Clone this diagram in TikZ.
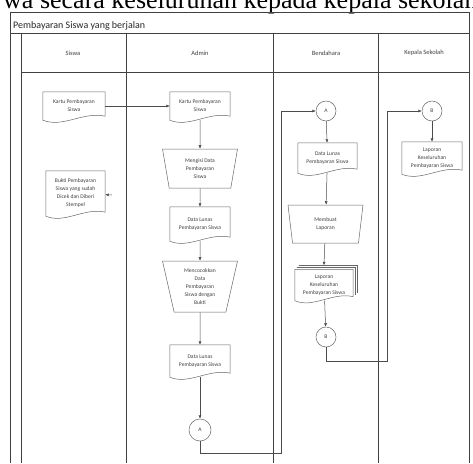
\documentclass[tikz,border=0pt]{standalone}
\usepackage{fontspec}
\setmainfont{Carlito}
\newfontfamily\teksfont{Liberation Serif}
\usetikzlibrary{shapes.geometric,arrows.meta,calc}

% garis bawah bergelombang untuk simbol dokumen
\newcommand{\dokumen}[1]{\draw[garis] (#1.north west) -- (#1.north east) -- ($(#1.south east)+(0,4)$) .. controls ($(#1.south)+(9,9)$) and ($(#1.south)+(-11,-8)$) .. (#1.south west) -- cycle;}

\begin{document}
\begin{tikzpicture}[x=1pt,y=1pt,
  lajur/.style={draw=black!75,line width=0.7pt},
  garis/.style={draw=black!60,line width=0.5pt},
  panah/.style={draw=black!70,line width=0.5pt,-{Latex[length=3.5pt,width=3pt]}},
  teks/.style={font=\fontsize{5.6}{8}\selectfont,text=black!75,align=center,inner sep=1pt},
  doc/.style={teks,minimum width=60pt,minimum height=30pt},
  proses/.style={teks,garis,trapezium,shape border rotate=180,trapezium stretches body,
    trapezium left angle=73,trapezium right angle=73,minimum width=75pt,minimum height=39pt},
  sambung/.style={teks,garis,circle,minimum size=20pt}]
\useasboundingbox (0,0) rectangle (473,-463);

\node[anchor=base west,inner sep=0,font=\teksfont\fontsize{26}{30}\selectfont] (atas) at (3,-9) {wa secara keseluruhan kepada kepala sekolah};

% bingkai dan lajur
\draw[lajur] (10,-463) -- (10,-12) -- (469,-12) -- (469,-463);
\draw[lajur] (10,-33) -- (469,-33);
\draw[lajur] (21,-33) -- (21,-463);
\draw[lajur] (21,-72) -- (469,-72);
\foreach \x in {126,273,378}
  \draw[lajur] (\x,-33) -- (\x,-463);
\node[anchor=base west,inner sep=0,font=\fontsize{10}{12}\selectfont,text=black!85] (judul) at (13,-28) {Pembayaran Siswa yang berjalan};
\node[teks,font=\fontsize{6.5}{8}\selectfont] (hsiswa) at (73,-53) {Siswa};
\node[teks,font=\fontsize{6.5}{8}\selectfont] (hadmin) at (200,-53) {Admin};
\node[teks,font=\fontsize{6.5}{8}\selectfont] (hbendahara) at (326,-53) {Bendahara};
\node[teks,font=\fontsize{6.5}{8}\selectfont] (hkepsek) at (424,-53) {Kepala Sekolah};

% Siswa
\node[doc,minimum width=62pt,minimum height=28pt] (kartu) at (74,-106) {Kartu Pembayaran\\Siswa};
\node[doc,minimum width=59pt,minimum height=45pt] (bukti) at (75.5,-193.5) {Bukti Pembayaran\\Siswa yang sudah\\Dicek dan Diberi\\Stempel};
\coordinate (bukti in) at (112,-195);

% Admin
\node[doc,minimum height=28pt] (kartuadm) at (200,-106) {Kartu Pembayaran\\Siswa};
\node[proses] (isi) at (200,-168.5) {Mengisi Data\\Pembayaran\\Siswa};
\node[doc,minimum height=34pt] (lunas) at (200,-224) {Data Lunas\\Pembayaran Siswa};
\node[proses,minimum height=51pt] (cocok) at (200,-286.5) {Mencocokkan\\Data\\Pembayaran\\Siswa dengan\\Bukti};
\node[doc,minimum height=32pt] (lunas2) at (200,-361) {Data Lunas\\Pembayaran Siswa};
\node[sambung,minimum size=22pt] (a1) at (200,-430) {A};

% Bendahara
\node[sambung] (a2) at (326,-111) {A};
\node[doc,minimum width=59pt] (lunas3) at (327.5,-158) {Data Lunas\\Pembayaran Siswa};
\node[proses,minimum height=38pt] (buat) at (325.5,-224) {Membuat\\Laporan};
\node[doc,minimum width=58pt,minimum height=31pt] (laporan) at (324,-285) {Laporan\\Keseluruhan\\Pembayaran Siswa};
\node[sambung] (b1) at (326,-337) {B};

% Kepala Sekolah
\node[sambung] (b2) at (432,-111) {B};
\node[doc,minimum height=32pt] (laporan2) at (432,-158) {Laporan\\Keseluruhan\\Pembayaran Siswa};

\foreach \n in {kartu,bukti,kartuadm,lunas,lunas2,lunas3,laporan,laporan2}
  \dokumen{\n}
\foreach \d in {2,4}
  \draw[garis] ($(laporan.north west)+(\d,\d)$) -- ($(laporan.north east)+(\d,\d)$) -- ($(laporan.south east)+(\d,4+\d)$);

\coordinate (ra) at (281,-453);
\coordinate (rb) at (387,-361);
\draw[panah] (kartu) -- (kartuadm);
\draw[panah] (bukti in) -- (bukti);
\draw[panah] (kartuadm) -- (isi);
\draw[panah] (isi) -- (lunas);
\draw[panah] (lunas) -- (cocok);
\draw[panah] (cocok) -- (lunas2);
\draw[panah] (lunas2) -- (a1);
\draw[panah] (a1.south) |- (ra) |- (a2.west);
\draw[panah] (a2) -- (lunas3);
\draw[panah] (lunas3) -- (buat);
\draw[panah] (buat) -- ($(laporan.north)+(0,4)$);
\draw[panah] (laporan) -- (b1);
\draw[panah] (b1.south) |- (rb) |- (b2.west);
\draw[panah] (b2) -- (laporan2);
\end{tikzpicture}
\end{document}
